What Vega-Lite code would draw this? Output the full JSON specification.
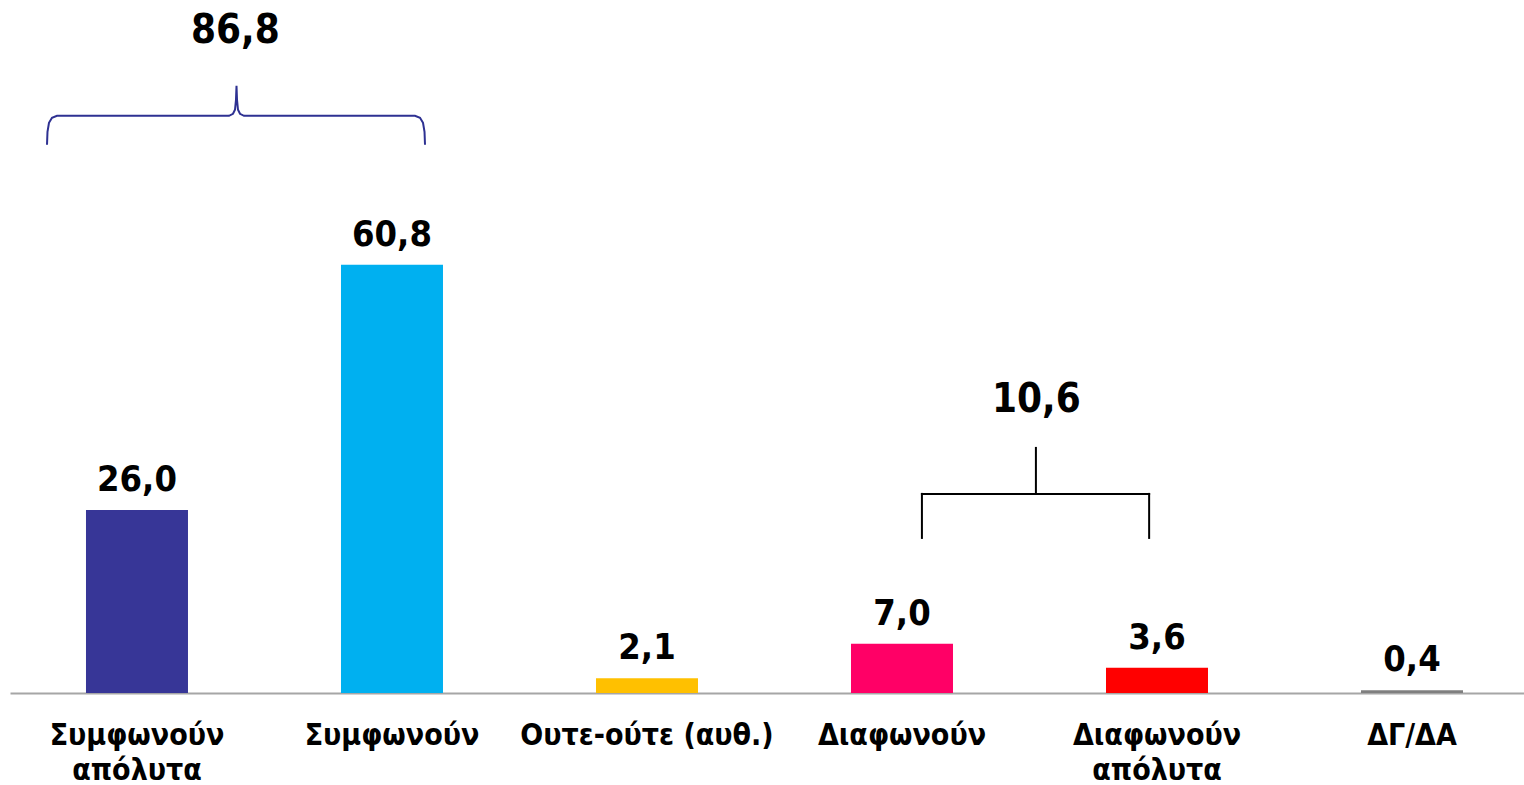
{
  "$schema": "https://vega.github.io/schema/vega-lite/v6.json",
  "width": 1514,
  "height": 693,
  "autosize": {"type": "none"},
  "padding": {"left": 10, "top": 0, "right": 0, "bottom": 92},
  "background": "white",
  "config": {
    "view": {"stroke": null},
    "font": "DejaVu Sans Condensed",
    "locale": {"number": {"decimal": ",", "thousands": ".", "grouping": [3], "currency": ["€", ""]}}
  },
  "datasets": {
    "bars": [
      {"cat": "Συμφωνούν|απόλυτα", "value": 26.0},
      {"cat": "Συμφωνούν", "value": 60.8},
      {"cat": "Ουτε-ούτε (αυθ.)", "value": 2.1},
      {"cat": "Διαφωνούν", "value": 7.0},
      {"cat": "Διαφωνούν|απόλυτα", "value": 3.6},
      {"cat": "ΔΓ/ΔΑ", "value": 0.4}
    ],
    "brace": [
      {"i": 1, "u": -0.3529, "v": 77.84},
      {"i": 2, "u": -0.3510, "v": 79.69},
      {"i": 3, "u": -0.3451, "v": 80.97},
      {"i": 4, "u": -0.3333, "v": 81.68},
      {"i": 5, "u": -0.3137, "v": 81.96},
      {"i": 6, "u": 0.3608, "v": 81.96},
      {"i": 7, "u": 0.3765, "v": 82.24},
      {"i": 8, "u": 0.3843, "v": 82.81},
      {"i": 9, "u": 0.3882, "v": 84.23},
      {"i": 10, "u": 0.3902, "v": 86.22},
      {"i": 11, "u": 0.3922, "v": 84.23},
      {"i": 12, "u": 0.3961, "v": 82.81},
      {"i": 13, "u": 0.4039, "v": 82.24},
      {"i": 14, "u": 0.4196, "v": 81.96},
      {"i": 15, "u": 1.0902, "v": 81.96},
      {"i": 16, "u": 1.1098, "v": 81.68},
      {"i": 17, "u": 1.1216, "v": 80.97},
      {"i": 18, "u": 1.1275, "v": 79.69},
      {"i": 19, "u": 1.1294, "v": 77.84}
    ],
    "bracket": [
      {"u": 3.078, "v": 22.02, "u2": 3.078, "v2": 28.27},
      {"u": 3.078, "v": 28.27, "u2": 3.969, "v2": 28.27},
      {"u": 3.969, "v": 22.02, "u2": 3.969, "v2": 28.27},
      {"u": 3.525, "v": 28.27, "u2": 3.525, "v2": 34.80}
    ],
    "totals": [
      {"u": 0.386, "v": 92.33, "total": 86.8},
      {"u": 3.527, "v": 39.91, "total": 10.6}
    ]
  },
  "resolve": {"scale": {"x": "independent"}, "axis": {"x": "independent"}},
  "layer": [
    {
      "data": {"name": "bars"},
      "encoding": {
        "x": {
          "field": "cat",
          "type": "nominal",
          "sort": null,
          "scale": {"paddingInner": 0.6, "paddingOuter": 0.2686, "align": 0.5547},
          "axis": {
            "title": null,
            "labelAngle": 0,
            "labelExpr": "split(datum.label, '|')",
            "ticks": false,
            "domainColor": "#a6a6a6",
            "domainWidth": 2,
            "labelPadding": 27,
            "labelLimit": 0,
            "labelFont": "DejaVu Sans Condensed",
            "labelFontSize": 30,
            "labelFontWeight": "bold",
            "labelColor": "#000000",
            "labelLineHeight": 35,
            "labelBaseline": "top"
          }
        },
        "y": {
          "field": "value",
          "type": "quantitative",
          "scale": {"domain": [0, 98.4], "nice": false},
          "axis": null
        }
      },
      "layer": [
        {
          "mark": {"type": "bar"},
          "encoding": {
            "color": {
              "field": "cat",
              "type": "nominal",
              "sort": null,
              "scale": {
                "domain": ["Συμφωνούν|απόλυτα", "Συμφωνούν", "Ουτε-ούτε (αυθ.)", "Διαφωνούν", "Διαφωνούν|απόλυτα", "ΔΓ/ΔΑ"],
                "range": ["#373697", "#00b0f0", "#ffc000", "#ff0066", "#ff0000", "#7f7f7f"]
              },
              "legend": null
            }
          }
        },
        {
          "mark": {"type": "text", "baseline": "alphabetic", "dy": -19, "fontSize": 36, "fontWeight": "bold", "color": "#000000"},
          "encoding": {
            "text": {"field": "value", "type": "quantitative", "format": ".1f"}
          }
        }
      ]
    },
    {
      "encoding": {
        "x": {"field": "u", "type": "quantitative", "scale": {"domain": [-0.498, 5.439], "nice": false, "zero": false}, "axis": null},
        "y": {"field": "v", "type": "quantitative", "scale": {"domain": [0, 98.4], "nice": false}, "axis": null}
      },
      "layer": [
        {
          "data": {"name": "brace"},
          "mark": {"type": "line", "color": "#2e3192", "strokeWidth": 2, "interpolate": "linear"},
          "encoding": {"order": {"field": "i", "type": "quantitative"}}
        },
        {
          "data": {"name": "bracket"},
          "mark": {"type": "rule", "color": "#000000", "strokeWidth": 2, "strokeCap": "square"},
          "encoding": {
            "x2": {"field": "u2"},
            "y2": {"field": "v2"}
          }
        },
        {
          "data": {"name": "totals"},
          "mark": {"type": "text", "baseline": "alphabetic", "fontSize": 40, "fontWeight": "bold", "color": "#000000"},
          "encoding": {
            "text": {"field": "total", "type": "quantitative", "format": ".1f"}
          }
        }
      ]
    }
  ]
}
